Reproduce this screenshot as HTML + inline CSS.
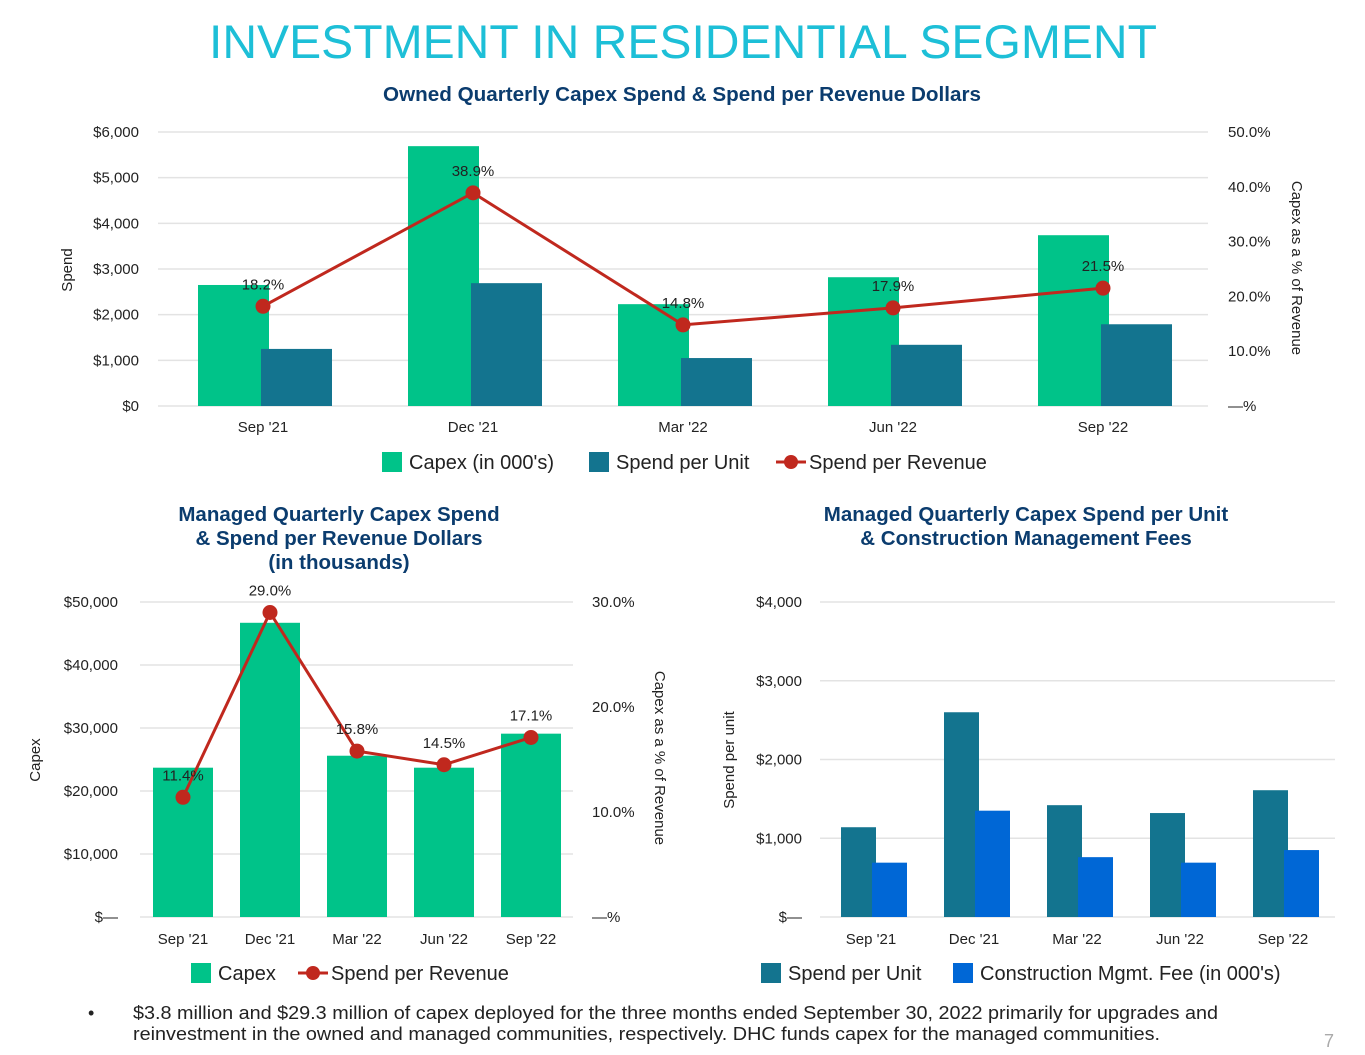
<!DOCTYPE html>
<html><head><meta charset="utf-8"><style>
body{margin:0;width:1365px;height:1055px;background:#fff;overflow:hidden;font-family:"Liberation Sans",sans-serif;}
svg{position:absolute;left:0;top:0}
</style></head><body>
<svg id="s" width="1365" height="1055" font-family="Liberation Sans, sans-serif">
<text x="683" y="58" text-anchor="middle" font-size="47" textLength="948" lengthAdjust="spacingAndGlyphs" fill="#1DBFD7">INVESTMENT IN RESIDENTIAL SEGMENT</text>
<g font-weight="bold" fill="#0B3C6E" font-size="20.5" text-anchor="middle">
<text x="682" y="101" textLength="598" lengthAdjust="spacingAndGlyphs">Owned Quarterly Capex Spend &amp; Spend per Revenue Dollars</text>
<text x="339" y="521">Managed Quarterly Capex Spend</text>
<text x="339" y="545">&amp; Spend per Revenue Dollars</text>
<text x="339" y="569">(in thousands)</text>
<text x="1026" y="521">Managed Quarterly Capex Spend per Unit</text>
<text x="1026" y="545">&amp; Construction Management Fees</text>
</g>
<g id="c1"></g><g id="c2"></g><g id="c3"></g>
<text x="88" y="1019" font-size="18" fill="#222">•</text>
<text x="133" y="1019" font-size="18" textLength="1085" lengthAdjust="spacingAndGlyphs" fill="#222">$3.8 million and $29.3 million of capex deployed for the three months ended September 30, 2022 primarily for upgrades and</text>
<text x="133" y="1040" font-size="18" textLength="1027" lengthAdjust="spacingAndGlyphs" fill="#222">reinvestment in the owned and managed communities, respectively. DHC funds capex for the managed communities.</text>
<text x="1329" y="1047" font-size="18" fill="#aaa" text-anchor="middle">7</text>
</svg>
<script>
const cats=["Sep '21","Dec '21","Mar '22","Jun '22","Sep '22"];
const ownedCapex=[2650,5690,2230,2820,3740];
const ownedSpu=[1250,2690,1050,1340,1790];
const ownedRev=[18.2,38.9,14.8,17.9,21.5];
const ownedLeftTicks=["$0","$1,000","$2,000","$3,000","$4,000","$5,000","$6,000"];
const ownedRightTicks=["—%","10.0%","20.0%","30.0%","40.0%","50.0%"];
const mgdCapex=[23700,46700,25600,23700,29100];
const mgdRev=[11.4,29.0,15.8,14.5,17.1];
const mgdLeftTicks=["$—","$10,000","$20,000","$30,000","$40,000","$50,000"];
const mgdRightTicks=["—%","10.0%","20.0%","30.0%"];
const unitSpu=[1140,2600,1420,1320,1610];
const unitFee=[690,1350,760,690,850];
const unitTicks=["$—","$1,000","$2,000","$3,000","$4,000"];
const NS="http://www.w3.org/2000/svg";
const G="#00C389",T="#13748F",B="#0067D6",R="#C0281E";
function mk(p,tag,a,txt){const e=document.createElementNS(NS,tag);for(const k in a)e.setAttribute(k,a[k]);if(txt!==undefined)e.textContent=txt;p.appendChild(e);return e;}
function tick(p,x,y,t,anchor){const e=mk(p,'text',{x:x,y:y+5,'font-size':15,fill:'#222','text-anchor':anchor},t);

}
function legendBox(p,x,y,c,t){const r=mk(p,'rect',{x:x,y:y-10,width:20,height:20,fill:c});


const e=mk(p,'text',{x:x+27,y:y+7,'font-size':20,fill:'#222'},t);

}
function legendLine(p,x,y,t){const l=mk(p,'line',{x1:x,y1:y,x2:x+30,y2:y,stroke:R,'stroke-width':3});


mk(p,'circle',{cx:x+15,cy:y,r:7,fill:R});
const e=mk(p,'text',{x:x+33,y:y+7,'font-size':20,fill:'#222'},t);

}
function rotText(p,x,y,t,name){const e=mk(p,'text',{x:x,y:y,'font-size':15,fill:'#222','text-anchor':'middle',transform:`rotate(${name.startsWith('y-right')?90:-90} ${x} ${y})`},t);

}
function line(p,xs,ys,vals){let d='';xs.forEach((x,i)=>d+=(i?'L':'M')+x+' '+ys[i]);
const pl=mk(p,'path',{d:d,fill:'none',stroke:R,'stroke-width':3});


xs.forEach((x,i)=>{const c=mk(p,'circle',{cx:x,cy:ys[i],r:7.5,fill:R});


const e=mk(p,'text',{x:x,y:ys[i]-17,'font-size':15,fill:'#222','text-anchor':'middle'},vals[i].toFixed(1)+'%');

});}
function bar(p,x,y,w,h,c,name){const r=mk(p,'rect',{x:x,y:y,width:w,height:h,fill:c});

}

// chart 1
{const p=document.getElementById('c1');const y0=406,y1=132,x0=158,x1=1208;
const yL=v=>y0-(v/6000)*(y0-y1),yR=v=>y0-(v/50)*(y0-y1);const cx=i=>x0+105+210*i;
ownedLeftTicks.forEach((t,i)=>{const y=y0-i*(y0-y1)/6;mk(p,'line',{x1:x0,y1:y,x2:x1,y2:y,stroke:'#e3e3e3','stroke-width':1.5});tick(p,139,y,t,'end');});
ownedRightTicks.forEach((t,i)=>tick(p,1228,y0-i*(y0-y1)/5,t,'start'));
cats.forEach((c,i)=>{bar(p,cx(i)-65,yL(ownedCapex[i]),71,y0-yL(ownedCapex[i]),G,'bar-capex');bar(p,cx(i)-2,yL(ownedSpu[i]),71,y0-yL(ownedSpu[i]),T,'bar-spend-per-unit');tick(p,cx(i),427,c,'middle');});
line(p,cats.map((c,i)=>cx(i)),ownedRev.map(yR),ownedRev);
rotText(p,72,270,'Spend','y-left-title');rotText(p,1292,268,'Capex as a % of Revenue','y-right-title');
legendBox(p,382,462,G,"Capex (in 000's)");legendBox(p,589,462,T,'Spend per Unit');legendLine(p,776,462,'Spend per Revenue');}

// chart 2
{const p=document.getElementById('c2');const y0=917,y1=602,x0=140,x1=573;
const yL=v=>y0-(v/50000)*(y0-y1),yR=v=>y0-(v/30)*(y0-y1);const cx=i=>x0+43+87*i;
mgdLeftTicks.forEach((t,i)=>{const y=y0-i*(y0-y1)/5;mk(p,'line',{x1:x0,y1:y,x2:x1,y2:y,stroke:'#e3e3e3','stroke-width':1.5});tick(p,118,y,t,'end');});
mgdRightTicks.forEach((t,i)=>tick(p,592,y0-i*(y0-y1)/3,t,'start'));
cats.forEach((c,i)=>{bar(p,cx(i)-30,yL(mgdCapex[i]),60,y0-yL(mgdCapex[i]),G,'bar-capex');tick(p,cx(i),939,c,'middle');});
line(p,cats.map((c,i)=>cx(i)),mgdRev.map(yR),mgdRev);
rotText(p,40,760,'Capex','y-left-title');rotText(p,655,758,'Capex as a % of Revenue','y-right-title');
legendBox(p,191,973,G,'Capex');legendLine(p,298,973,'Spend per Revenue');}

// chart 3
{const p=document.getElementById('c3');const y0=917,y1=602,x0=820,x1=1335;
const y=v=>y0-(v/4000)*(y0-y1);const cx=i=>x0+51+103*i;
unitTicks.forEach((t,i)=>{const yy=y0-i*(y0-y1)/4;mk(p,'line',{x1:x0,y1:yy,x2:x1,y2:yy,stroke:'#e3e3e3','stroke-width':1.5});tick(p,802,yy,t,'end');});
cats.forEach((c,i)=>{bar(p,cx(i)-30,y(unitSpu[i]),35,y0-y(unitSpu[i]),T,'bar-spend-per-unit');bar(p,cx(i)+1,y(unitFee[i]),35,y0-y(unitFee[i]),B,'bar-construction-fee');tick(p,cx(i),939,c,'middle');});
rotText(p,734,760,'Spend per unit','y-left-title');
legendBox(p,761,973,T,'Spend per Unit');legendBox(p,953,973,B,"Construction Mgmt. Fee (in 000's)");}
</script>
</body></html>
